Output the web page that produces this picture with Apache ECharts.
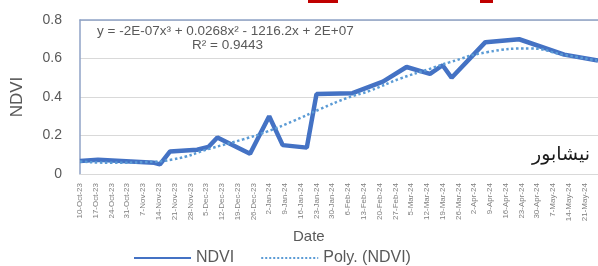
<!DOCTYPE html>
<html lang="en">
<head>
    <meta charset="UTF-8">
    <title>NDVI Neyshabur</title>
    <script src="https://cdn.jsdelivr.net/npm/echarts@6/dist/echarts.min.js"></script>
    <style>
        html, body { margin: 0; padding: 0; background: #fff; }
        #main { width: 598px; height: 266px; }
    </style>
</head>
<body>
    <div id="main"></div>
    <script>
        // weekly tick labels (one every 7 days, from day 0)
        const dateLabels = ["10-Oct-23", "17-Oct-23", "24-Oct-23", "31-Oct-23", "7-Nov-23", "14-Nov-23", "21-Nov-23",
            "28-Nov-23", "5-Dec-23", "12-Dec-23", "19-Dec-23", "26-Dec-23", "2-Jan-24", "9-Jan-24", "16-Jan-24",
            "23-Jan-24", "30-Jan-24", "6-Feb-24", "13-Feb-24", "20-Feb-24", "27-Feb-24", "5-Mar-24", "12-Mar-24",
            "19-Mar-24", "26-Mar-24", "2-Apr-24", "9-Apr-24", "16-Apr-24", "23-Apr-24", "30-Apr-24", "7-May-24",
            "14-May-24", "21-May-24"];

        // NDVI observations (days since 10-Oct-23)
        const ndviDays = [0, 8, 33, 35.5, 40, 52, 57, 61, 75.5, 84, 90, 100.7, 105, 121, 134.5, 145, 155.4, 161, 165, 180, 195, 215, 230];
        const ndviValues = [0.068, 0.074, 0.058, 0.05, 0.117, 0.126, 0.14, 0.19, 0.105, 0.30, 0.15, 0.137, 0.415, 0.42, 0.48, 0.556, 0.52, 0.565, 0.50, 0.685, 0.70, 0.62, 0.59];

        // polynomial trend line
        const trendDays = [0, 14.7, 28.4, 41, 58.6, 72.4, 83, 94.6, 106.6, 118.6, 128.8, 142, 155, 164, 180.7, 200, 214.5, 229.6];
        const trendValues = [0.065, 0.058, 0.062, 0.075, 0.135, 0.18, 0.22, 0.275, 0.337, 0.395, 0.433, 0.495, 0.545, 0.58, 0.633, 0.652, 0.62, 0.59];

        const yTicks = [0, 0.2, 0.4, 0.6, 0.8];

        const zip = (a, b) => a.map((d, i) => [d, b[i]]);

        const myChart = echarts.init(document.getElementById('main'));
        const font = 'Liberation Sans, Arial, sans-serif';
        const frameColor = '#8FA2C6';

        const option = {
            backgroundColor: '#ffffff',
            animation: false,
            grid: { left: 80, right: 0, top: 20, bottom: 92 },
            legend: {
                left: 128,
                top: 245,
                itemWidth: 57,
                itemHeight: 14,
                itemGap: 26,
                itemStyle: { opacity: 0 },
                textStyle: { fontFamily: font, fontSize: 16, color: '#595959' },
                data: ['NDVI', 'Poly. (NDVI)']
            },
            xAxis: [{
                type: 'value',
                min: 0,
                max: 230,
                interval: 7,
                axisLine: { show: true, lineStyle: { color: '#D9D9D9' } },
                axisTick: { show: false },
                splitLine: { show: false },
                axisLabel: {
                    rotate: 90,
                    margin: 9,
                    fontSize: 8,
                    fontFamily: font,
                    color: '#7F7F7F',
                    formatter: v => (v % 7 === 0 && dateLabels[v / 7]) ? dateLabels[v / 7] : ''
                }
            }, {
                type: 'value',
                position: 'top',
                min: 0,
                max: 230,
                axisLine: { show: true, lineStyle: { color: frameColor, width: 1.5 } },
                axisTick: { show: false },
                axisLabel: { show: false },
                splitLine: { show: false }
            }],
            yAxis: {
                type: 'value',
                min: 0,
                max: 0.8,
                interval: 0.2,
                name: 'NDVI',
                nameLocation: 'middle',
                nameGap: 54,
                nameRotate: 90,
                nameTextStyle: { fontFamily: font, fontSize: 17, color: '#595959' },
                axisLine: { show: true, lineStyle: { color: frameColor, width: 1.5 } },
                axisTick: { show: false },
                axisLabel: {
                    margin: 18,
                    fontFamily: font,
                    fontSize: 14,
                    color: '#595959',
                    formatter: v => yTicks.includes(+v.toFixed(1)) ? (v === 0 ? '0' : v.toFixed(1)) : ''
                },
                splitLine: { lineStyle: { color: '#D9D9D9', width: 1 } }
            },
            series: [{
                name: 'NDVI',
                type: 'line',
                data: zip(ndviDays, ndviValues),
                showSymbol: false,
                symbol: 'none',
                lineStyle: { color: '#4472C4', width: 4.5 },
                itemStyle: { color: '#4472C4' },
                z: 3
            }, {
                name: 'Poly. (NDVI)',
                type: 'line',
                data: zip(trendDays, trendValues),
                smooth: true,
                showSymbol: false,
                symbol: 'none',
                lineStyle: { color: '#5B9BD5', width: 2.5, type: 'dotted' },
                itemStyle: { color: '#5B9BD5' },
                z: 4
            }],
            graphic: [{
                type: 'text',
                left: 97,
                top: 24,
                style: {
                    text: 'y = -2E-07x³ + 0.0268x² - 1216.2x + 2E+07',
                    font: '13.5px ' + font,
                    fill: '#595959'
                }
            }, {
                type: 'text',
                left: 192,
                top: 38,
                style: {
                    text: 'R² = 0.9443',
                    font: '13.5px ' + font,
                    fill: '#595959'
                }
            }, {
                type: 'text',
                right: 8,
                top: 146,
                style: {
                    text: 'نیشابور',
                    font: '19px DejaVu Sans, sans-serif',
                    fill: '#1a1a1a'
                }
            }, {
                type: 'text',
                left: 293,
                top: 229,
                style: {
                    text: 'Date',
                    font: '15px ' + font,
                    fill: '#595959'
                }
            }, {
                type: 'rect',
                shape: { x: 308, y: 0, width: 30, height: 3 },
                style: { fill: '#C00000' }
            }, {
                type: 'rect',
                shape: { x: 480, y: 0, width: 13, height: 3 },
                style: { fill: '#C00000' }
            }]
        };

        myChart.setOption(option);
    </script>
</body>
</html>
